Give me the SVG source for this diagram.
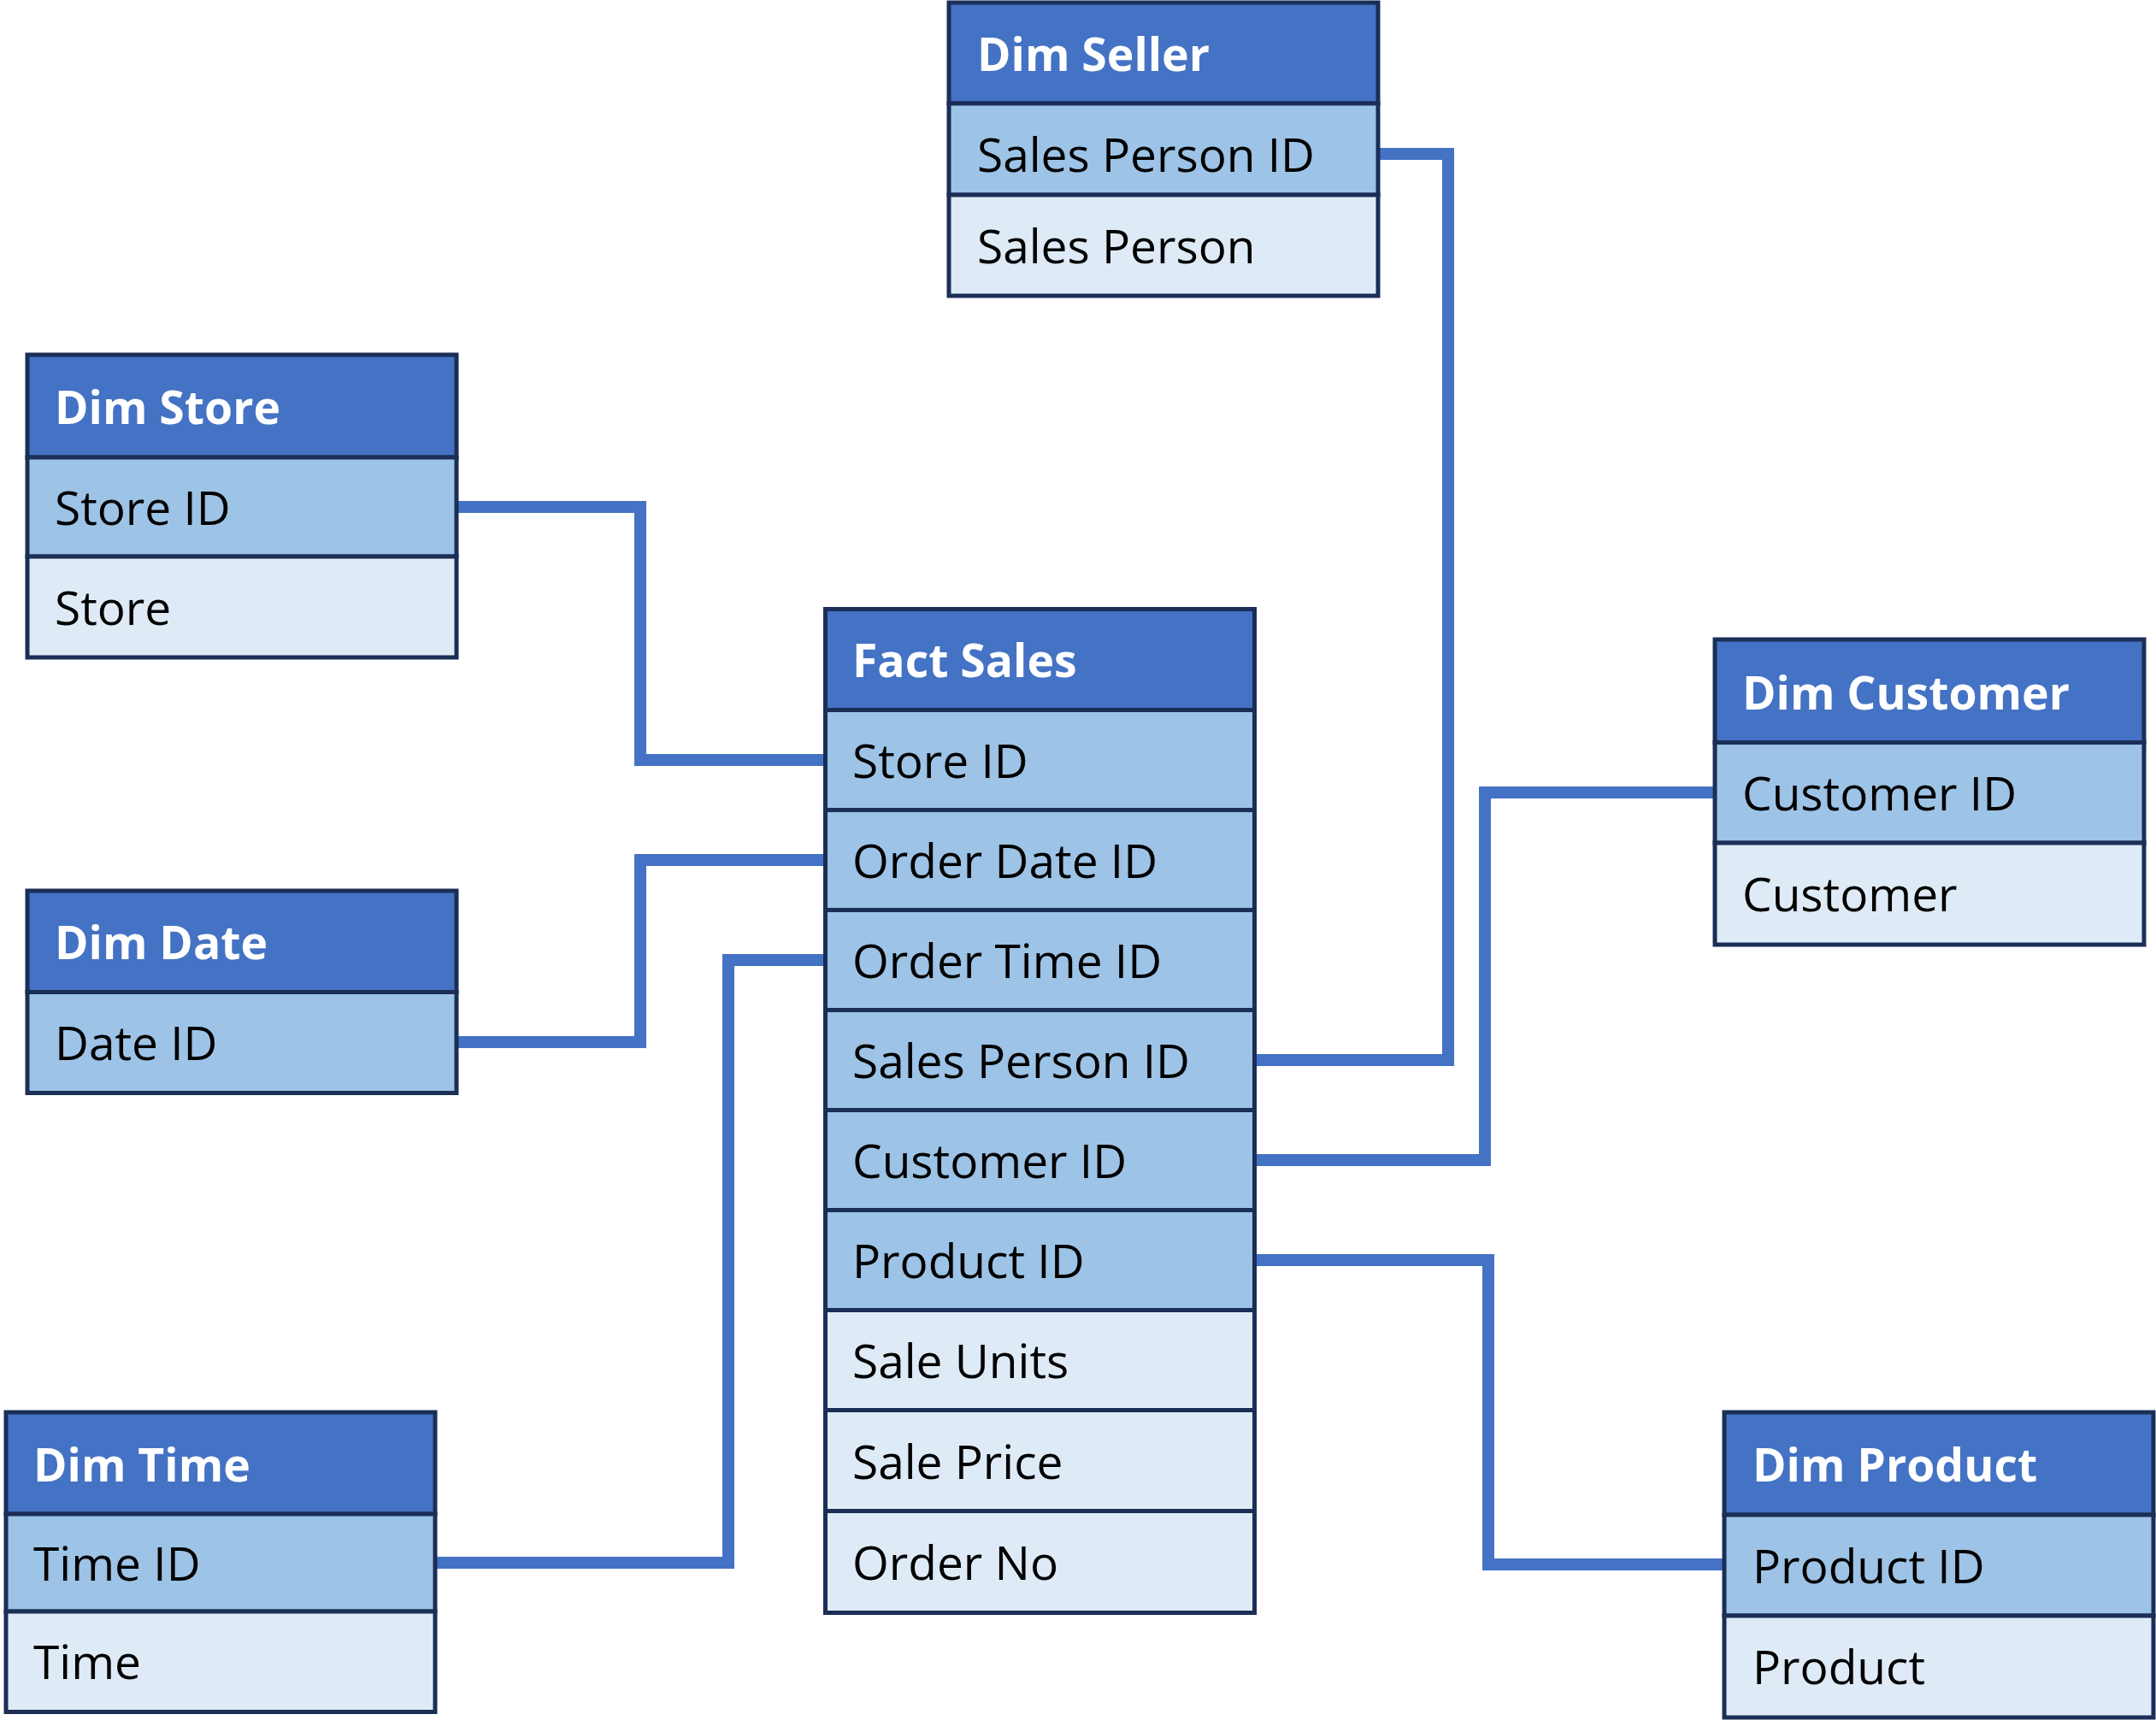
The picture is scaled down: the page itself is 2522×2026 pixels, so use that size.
<svg xmlns="http://www.w3.org/2000/svg" width="2522" height="2026" viewBox="0 0 2522 2026">
<style>
.hd{fill:#4472C4;stroke:#1B2E56;stroke-width:5}
.key{fill:#9DC3E6;stroke:#1B2E56;stroke-width:5}
.att{fill:#DEEBF7;stroke:#1B2E56;stroke-width:5}
.t{font-family:"Open Sans","Liberation Sans",sans-serif;font-size:55px;fill:#000}
.h{font-family:"Open Sans","Liberation Sans",sans-serif;font-size:53.5px;font-weight:bold;fill:#FFFFFF}
.c{fill:none;stroke:#4472C4;stroke-width:14;stroke-linejoin:miter;stroke-linecap:butt}
</style>
<rect width="2522" height="2026" fill="#FFFFFF"/>
<g id="connectors">
<path class="c" d="M534 593 H749 V889 H965.5"/>
<path class="c" d="M534 1219 H749 V1006 H965.5"/>
<path class="c" d="M509 1828 H852 V1123 H965.5"/>
<path class="c" d="M1467.5 1240 H1694 V180 H1612"/>
<path class="c" d="M1467.5 1357 H1737 V927 H2006"/>
<path class="c" d="M1467.5 1474 H1741 V1830 H2017"/>
</g>
<g id="dim-seller">
<rect class="hd" x="1110" y="3" width="502" height="118"/>
<rect class="key" x="1110" y="121" width="502" height="107"/>
<rect class="att" x="1110" y="228" width="502" height="118"/>
<text class="h" x="1143" y="83">Dim Seller</text>
<text class="t" x="1143" y="201">Sales Person ID</text>
<text class="t" x="1143" y="308">Sales Person</text>
</g>
<g id="dim-store">
<rect class="hd" x="32" y="415" width="502" height="120"/>
<rect class="key" x="32" y="535" width="502" height="116"/>
<rect class="att" x="32" y="651" width="502" height="118"/>
<text class="h" x="64" y="496">Dim Store</text>
<text class="t" x="64" y="614">Store ID</text>
<text class="t" x="64" y="731">Store</text>
</g>
<g id="dim-date">
<rect class="hd" x="32" y="1042" width="502" height="118.5"/>
<rect class="key" x="32" y="1160.5" width="502" height="118"/>
<text class="h" x="64" y="1122">Dim Date</text>
<text class="t" x="64" y="1240">Date ID</text>
</g>
<g id="dim-time">
<rect class="hd" x="7" y="1652" width="502" height="119"/>
<rect class="key" x="7" y="1771" width="502" height="114"/>
<rect class="att" x="7" y="1885" width="502" height="117.5"/>
<text class="h" x="39" y="1733">Dim Time</text>
<text class="t" x="39" y="1849">Time ID</text>
<text class="t" x="39" y="1964">Time</text>
</g>
<g id="fact-sales">
<rect class="hd" x="965.5" y="712.5" width="502" height="118"/>
<rect class="key" x="965.5" y="830.5" width="502" height="117"/>
<rect class="key" x="965.5" y="947.5" width="502" height="117"/>
<rect class="key" x="965.5" y="1064.5" width="502" height="117"/>
<rect class="key" x="965.5" y="1181.5" width="502" height="117"/>
<rect class="key" x="965.5" y="1298.5" width="502" height="117"/>
<rect class="key" x="965.5" y="1415.5" width="502" height="117"/>
<rect class="att" x="965.5" y="1532.5" width="502" height="117"/>
<rect class="att" x="965.5" y="1649.5" width="502" height="118"/>
<rect class="att" x="965.5" y="1767.5" width="502" height="119"/>
<text class="h" x="997" y="792">Fact Sales</text>
<text class="t" x="997" y="910">Store ID</text>
<text class="t" x="997" y="1027">Order Date ID</text>
<text class="t" x="997" y="1144">Order Time ID</text>
<text class="t" x="997" y="1261">Sales Person ID</text>
<text class="t" x="997" y="1378">Customer ID</text>
<text class="t" x="997" y="1495">Product ID</text>
<text class="t" x="997" y="1612">Sale Units</text>
<text class="t" x="997" y="1730">Sale Price</text>
<text class="t" x="997" y="1848">Order No</text>
</g>
<g id="dim-customer">
<rect class="hd" x="2006" y="748" width="502" height="120.5"/>
<rect class="key" x="2006" y="868.5" width="502" height="117.5"/>
<rect class="att" x="2006" y="986" width="502" height="119"/>
<text class="h" x="2038" y="830">Dim Customer</text>
<text class="t" x="2038" y="948">Customer ID</text>
<text class="t" x="2038" y="1066">Customer</text>
</g>
<g id="dim-product">
<rect class="hd" x="2017" y="1652" width="502" height="120"/>
<rect class="key" x="2017" y="1772" width="502" height="118"/>
<rect class="att" x="2017" y="1890" width="502" height="119"/>
<text class="h" x="2050" y="1733">Dim Product</text>
<text class="t" x="2050" y="1852">Product ID</text>
<text class="t" x="2050" y="1970">Product</text>
</g>
</svg>
